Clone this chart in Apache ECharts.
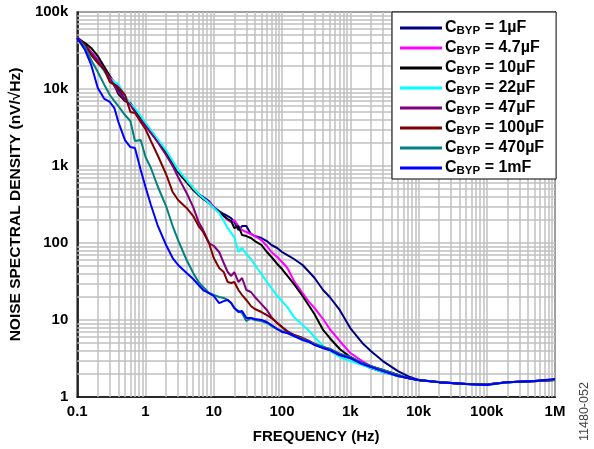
<!DOCTYPE html>
<html>
<head>
<meta charset="utf-8">
<script src="https://cdn.jsdelivr.net/npm/echarts@6/dist/echarts.min.js"></script>
<style>
  html, body { margin: 0; padding: 0; background: #fff; }
  #chart { width: 594px; height: 449px; }
</style>
</head>
<body>
<div id="chart"></div>
<script>
// frequency points (Hz), shared by all curves
const freq = [0.1, 0.13, 0.16, 0.2, 0.25, 0.3, 0.35, 0.4, 0.5, 0.6, 0.7, 0.85,
  1, 1.2, 1.5, 2, 2.5, 3, 4, 5, 6, 7, 8.5,
  10, 12, 14, 16, 18, 20, 23, 26, 30, 35, 40, 50, 60, 70, 85,
  100, 120, 150, 200, 250, 300, 400, 500, 700,
  1000, 1500, 2000, 3000, 5000, 7000,
  10000, 20000, 50000, 100000, 200000, 500000, 1000000];

// noise density (nV/rtHz) per bypass capacitor
const c1u = [45900, 37300, 30200, 23800, 17600, 13900, 11600, 9700, 7640, 6380, 5180, 4080,
  3410, 2760, 2110, 1520, 1090, 836, 620, 503, 433, 396, 351,
  293, 260, 238, 224, 211, 187, 147, 166, 166, 131, 123, 116, 106, 94.2, 86.1,
  76.4, 69.8, 62, 51.8, 42, 35.1, 24.5, 19.9, 13.5,
  7.87, 5.03, 3.96, 2.93, 2.17, 1.87,
  1.66, 1.56, 1.47, 1.45, 1.55, 1.6, 1.68];
const c4u7 = [47300, 38400, 30200, 23800, 18700, 14700, 12300, 10900, 8110, 6380, 5340, 4200,
  3510, 2850, 2170, 1560, 1130, 861, 638, 503, 420, 384, 341,
  293, 252, 224, 199, 187, 199, 166, 147, 139, 131, 123, 109, 91.4, 76.4, 65.8,
  56.6, 47.3, 32.1, 22.4, 17.1, 14.3, 10.3, 7.64, 5.34,
  3.73, 2.93, 2.52, 2.17, 1.87, 1.76,
  1.66, 1.57, 1.48, 1.46, 1.56, 1.61, 1.67];
const c10u = [45900, 39600, 34100, 26800, 19300, 14700, 11300, 8610, 6980, 6580, 5340, 4200,
  3510, 2760, 2110, 1520, 1090, 836, 620, 488, 420, 373, 331,
  285, 252, 224, 205, 193, 156, 166, 127, 123, 116, 106, 94.2, 76.4, 65.8, 53.4,
  45.9, 37.3, 29.3, 20.5, 15.2, 11.9, 7.42, 5.84, 4.2,
  3.31, 2.68, 2.38, 2.11, 1.87, 1.76,
  1.65, 1.56, 1.47, 1.44, 1.55, 1.6, 1.66];
const c22u = [45900, 36200, 28500, 22400, 16600, 13900, 12300, 11600, 8110, 6380, 5660, 4460,
  3620, 2930, 2240, 1610, 1160, 887, 658, 518, 433, 384, 331,
  285, 245, 193, 156, 135, 119, 76.4, 86.1, 72, 62, 51.8, 39.6, 31.1, 26, 20.5,
  17.6, 14.7, 10.9, 8.61, 7.2, 6.01, 4.59, 3.96, 3.31,
  2.93, 2.6, 2.38, 2.11, 1.87, 1.76,
  1.66, 1.57, 1.47, 1.43, 1.54, 1.61, 1.67];
const c47u = [45900, 37300, 29300, 23100, 17600, 13900, 10900, 9140, 7200, 6200, 5030, 3960,
  3310, 2680, 2050, 1390, 1000, 720, 446, 293, 187, 147, 100,
  91.4, 76.4, 55, 42, 37.3, 42, 31.1, 35.1, 24.5, 23.1, 19.9, 16.1, 13.5, 10.9, 9.14,
  8.11, 7.2, 6.38, 5.84, 5.34, 4.88, 4.46, 4.2, 3.62,
  3.31, 2.76, 2.52, 2.24, 1.93, 1.76,
  1.66, 1.56, 1.47, 1.45, 1.56, 1.61, 1.66];
const c100u = [45900, 37300, 27600, 21700, 17600, 12300, 11300, 10600, 8360, 5030, 4880, 3730,
  3020, 2110, 1390, 787, 459, 362, 285, 224, 166, 139, 100,
  63.8, 47.3, 42, 31.1, 30.2, 31.1, 24.5, 21.1, 18.2, 15.2, 13.9, 12.7, 11.6, 10.6, 9.14,
  8.11, 6.98, 6.38, 5.84, 5.18, 4.88, 4.33, 4.08, 3.51,
  3.21, 2.76, 2.52, 2.24, 1.93, 1.76,
  1.66, 1.56, 1.47, 1.45, 1.56, 1.61, 1.66];
const c470u = [45900, 35100, 23800, 16600, 11300, 8360, 6980, 6010, 4590, 3840, 2110, 2170,
  1310, 942, 550, 302, 166, 109, 60.1, 40.8, 31.1, 26.8, 22.4,
  21.1, 19.9, 19.3, 18.2, 16.6, 14.3, 13.1, 12.3, 9.7, 10.6, 10, 9.7, 9.14, 8.36, 7.64,
  7.2, 6.78, 6.2, 5.66, 5.18, 4.88, 4.46, 4.2, 3.62,
  3.31, 2.76, 2.52, 2.24, 1.93, 1.76,
  1.66, 1.57, 1.47, 1.45, 1.55, 1.61, 1.67];
const c1m = [45900, 32100, 20500, 10300, 7420, 6780, 5660, 3730, 2170, 1760, 1710, 887,
  534, 311, 171, 94.2, 63.8, 51.8, 40.8, 34.1, 28.5, 24.5, 22.4,
  20.5, 16.6, 17.6, 18.2, 16.6, 14.3, 12.7, 13.1, 10.6, 10.6, 10.3, 10, 9.42, 8.61, 7.64,
  6.98, 6.78, 6.2, 5.5, 5.18, 4.73, 4.33, 4.08, 3.51,
  3.21, 2.68, 2.45, 2.17, 1.87, 1.76,
  1.66, 1.56, 1.47, 1.43, 1.56, 1.61, 1.71];

const capNames = ["1µF", "4.7µF", "10µF", "22µF", "47µF", "100µF", "470µF", "1mF"];
const capColors = ["#000080", "#ff00ff", "#000000", "#00ffff", "#800080", "#800000", "#008080", "#0000ff"];
const capValues = [c1u, c4u7, c10u, c22u, c47u, c100u, c470u, c1m];

const xTicks = ["0.1", "1", "10", "100", "1k", "10k", "100k", "1M"];
const yTicks = ["1", "10", "100", "1k", "10k", "100k"];

const font = "Liberation Sans, Arial, sans-serif";
const gridColor = "#c0c0c0";

// minor grid lines at 2..9 of every decade
const minorX = [];
const minorY = [];
for (let d = -1; d < 6; d++) for (let m = 2; m <= 9; m++) minorX.push(m * Math.pow(10, d));
for (let d = 0; d < 5; d++) for (let m = 2; m <= 9; m++) minorY.push(m * Math.pow(10, d));

const chart = echarts.init(document.getElementById("chart"));

const series = capNames.map((name, i) => ({
  name: name,
  type: "line",
  data: freq.map((f, j) => [f, capValues[i][j]]),
  symbol: "none",
  z: 3,
  lineStyle: { color: capColors[i], width: 2 },
  itemStyle: { color: capColors[i] },
}));

series.unshift({
  name: "grid",
  type: "line",
  data: [[0.1, 1], [0.1, 1]],
  symbol: "none",
  silent: true,
  z: 1,
  lineStyle: { width: 0 },
  markLine: {
    z: 1,
    silent: true,
    symbol: ["none", "none"],
    label: { show: false },
    animation: false,
    lineStyle: { color: gridColor, width: 1.5, type: "solid" },
    data: minorX.map((v) => ({ xAxis: v })).concat(minorY.map((v) => ({ yAxis: v }))),
  },
});

const option = {
  animation: false,
  grid: {
    left: 75,
    right: 39,
    top: 12,
    bottom: 52,
    show: true,
    borderColor: "#000",
    borderWidth: 1.5,
  },
  xAxis: {
    type: "log",
    logBase: 10,
    min: 0.1,
    max: 1000000,
    name: "FREQUENCY (Hz)",
    nameLocation: "middle",
    nameGap: 32,
    nameTextStyle: { color: "#000", fontSize: 15, fontWeight: "bold", fontFamily: font },
    axisLine: { show: true, onZero: false, lineStyle: { color: "#000", width: 1.5 } },
    axisTick: { show: false },
    splitLine: { show: true, lineStyle: { color: gridColor, width: 1.5 } },
    axisLabel: {
      color: "#000",
      fontSize: 15,
      fontWeight: "bold",
      fontFamily: font,
      margin: 7,
      formatter: (v) => xTicks[Math.round(Math.log10(v)) + 1],
    },
  },
  yAxis: {
    type: "log",
    logBase: 10,
    min: 1,
    max: 100000,
    name: "NOISE SPECTRAL DENSITY (nV/√Hz)",
    nameLocation: "middle",
    nameGap: 50,
    nameTextStyle: { color: "#000", fontSize: 15.5, fontWeight: "bold", fontFamily: font },
    axisLine: { show: true, onZero: false, lineStyle: { color: "#000", width: 1.5 } },
    axisTick: { show: false },
    splitLine: { show: true, lineStyle: { color: gridColor, width: 1.5 } },
    axisLabel: {
      color: "#000",
      fontSize: 15,
      fontWeight: "bold",
      fontFamily: font,
      margin: 9,
      formatter: (v) => yTicks[Math.round(Math.log10(v))],
    },
  },
  legend: {
    data: capNames,
    orient: "vertical",
    left: 392,
    top: 12,
    icon: "rect",
    itemWidth: 42,
    itemHeight: 3,
    itemGap: 2,
    padding: [7, 12, 2, 8],
    backgroundColor: "#fff",
    borderColor: "#000",
    borderWidth: 1,
    selectedMode: false,
    formatter: (name) => "{c|C}{s|BYP}{c| = " + name + "}",
    textStyle: {
      padding: [0, 0, 0, -2],
      rich: {
        c: { fontSize: 16, fontWeight: "bold", fontFamily: font, color: "#000", lineHeight: 16 },
        s: { fontSize: 11.5, fontWeight: "bold", fontFamily: font, color: "#000", lineHeight: 16, padding: [6, 0, 0, 0] },
      },
    },
  },
  graphic: [
    {
      type: "text",
      x: 585,
      y: 441,
      rotation: Math.PI / 2,
      style: { text: "11480-052", fill: "#444", font: "12.5px " + font, textVerticalAlign: "middle" },
    },
  ],
  series: series,
};

chart.setOption(option);
window.addEventListener("resize", function () {
  chart.resize();
});
</script>
</body>
</html>
